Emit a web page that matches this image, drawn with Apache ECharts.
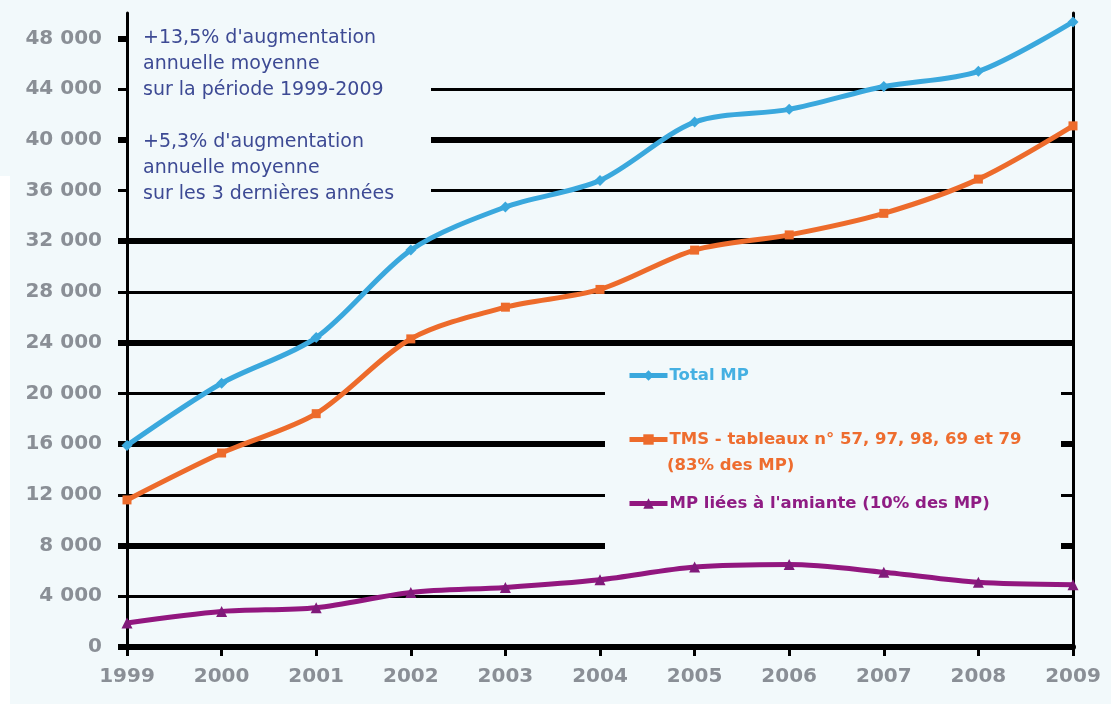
<!DOCTYPE html>
<html>
<head>
<meta charset="utf-8">
<script src="https://cdn.jsdelivr.net/npm/echarts@6/dist/echarts.min.js"></script>
<style>
html,body{margin:0;padding:0;background:#f2f9fb;}
#chart{width:1111px;height:704px;}
</style>
</head>
<body>
<div id="chart"></div>
<script>
const years = ['1999','2000','2001','2002','2003','2004','2005','2006','2007','2008','2009'];
const totalMP = [15900, 20800, 24400, 31300, 34700, 36800, 41400, 42400, 44200, 45400, 49300];
const tms = [11600, 15300, 18400, 24300, 26800, 28200, 31300, 32500, 34200, 36900, 41100];
const amiante = [1900, 2800, 3100, 4300, 4700, 5300, 6300, 6500, 5900, 5100, 4900];
const yTicks = [0, 4000, 8000, 12000, 16000, 20000, 24000, 28000, 32000, 36000, 40000, 44000, 48000];
const yTicksMajor = [0, 8000, 16000, 24000, 32000, 40000, 48000];
const seriesNames = ['Total MP', 'TMS - tableaux n° 57, 97, 98, 69 et 79', 'MP liées à l\'amiante (10% des MP)'];
const annotation = '+13,5% d\'augmentation\nannuelle moyenne\nsur la période 1999-2009\n\n+5,3% d\'augmentation\nannuelle moyenne\nsur les 3 dernières années';
const tmsNote = '(83% des MP)';

const BG = '#f2f9fb';
const fmt = v => v === 50000 ? '' : String(v).replace(/\B(?=(\d{3})+(?!\d))/g, ' ');
const font = 'DejaVu Sans';
const chart = echarts.init(document.getElementById('chart'));
chart.setOption({
  backgroundColor: BG,
  animation: false,
  grid: {left: 127, right: 38, top: 13, bottom: 57, containLabel: false},
  title: [
    {text: annotation, left: 143, top: 25, padding: 0,
     textStyle: {fontFamily: font, fontSize: 19, fontWeight: 'normal', color: '#3d4a94', lineHeight: 26}},
    {text: tmsNote, left: 667, top: 457, padding: 0,
     textStyle: {fontFamily: font, fontSize: 16.5, fontWeight: 'bold', color: '#ee6d2f'}}
  ],
  legend: {
    orient: 'vertical', left: 627, top: 367, padding: 0, itemGap: 47,
    itemWidth: 38, itemHeight: 13,
    lineStyle: {width: 5},
    textStyle: {fontFamily: font, fontSize: 16.5, fontWeight: 'bold', padding: [0, 0, 0, -3]},
    data: [
      {name: seriesNames[0], textStyle: {color: '#45b0e2'}},
      {name: seriesNames[1], textStyle: {color: '#ee6d2f'}},
      {name: seriesNames[2], textStyle: {color: '#8f1c84'}}
    ]
  },
  graphic: {elements: [
    {type: 'rect', z: 1, shape: {x: 129, y: 16, width: 302, height: 204}, style: {fill: BG}},
    {type: 'rect', z: 1, shape: {x: 605, y: 352, width: 456, height: 202}, style: {fill: BG}},
    {type: 'rect', z: 1, shape: {x: 0, y: 176, width: 10, height: 528}, style: {fill: '#ffffff'}}
  ]},
  xAxis: [
    {type: 'category', data: years, boundaryGap: false,
     axisLine: {show: true, lineStyle: {color: '#000', width: 6}},
     axisTick: {show: true, length: 9, lineStyle: {color: '#000', width: 3}},
     axisLabel: {margin: 20, fontFamily: font, fontSize: 20, fontWeight: 'bold', color: '#8a8f96'},
     splitLine: {show: false}},
    {type: 'category', data: years, boundaryGap: false, position: 'top',
     axisLine: {show: true, lineStyle: {color: '#000', width: 4}},
     axisTick: {show: false}, axisLabel: {show: false}, splitLine: {show: false}}
  ],
  yAxis: [
    {type: 'value', min: 0, max: 50000, interval: 4000, position: 'left',
     axisLine: {show: true, lineStyle: {color: '#000', width: 3}},
     axisTick: {show: true, length: 9, customValues: yTicks, lineStyle: {color: '#000', width: 3}},
     axisLabel: {margin: 25, formatter: fmt, customValues: yTicks, fontFamily: font, fontSize: 20, fontWeight: 'bold', color: '#8a8f96'},
     splitLine: {show: true, showMaxLine: false, lineStyle: {color: '#000', width: 3}}},
    {type: 'value', min: 0, max: 50000, interval: 8000, position: 'left',
     axisLine: {show: false},
     axisTick: {show: true, length: 9, customValues: yTicksMajor, lineStyle: {color: '#000', width: 6}},
     axisLabel: {show: false},
     splitLine: {show: true, showMaxLine: false, lineStyle: {color: '#000', width: 6}}},
    {type: 'value', min: 0, max: 50000, interval: 50000, position: 'right',
     axisLine: {show: true, lineStyle: {color: '#000', width: 3}},
     axisTick: {show: false}, axisLabel: {show: false}, splitLine: {show: false}}
  ],
  series: [
    {name: seriesNames[0], type: 'line', data: totalMP, smooth: 0.3,
     symbol: 'diamond', symbolSize: 11, showSymbol: true,
     lineStyle: {color: '#3aa8dd', width: 5}, itemStyle: {color: '#3aa8dd'}},
    {name: seriesNames[1], type: 'line', data: tms, smooth: 0.3,
     symbol: 'rect', symbolSize: 9,
     lineStyle: {color: '#ed6b2b', width: 5}, itemStyle: {color: '#ed6b2b'}},
    {name: seriesNames[2], type: 'line', data: amiante, smooth: 0.3,
     symbol: 'triangle', symbolSize: 11,
     lineStyle: {color: '#92177f', width: 5}, itemStyle: {color: '#801a7a'}}
  ]
});
</script>
</body>
</html>
